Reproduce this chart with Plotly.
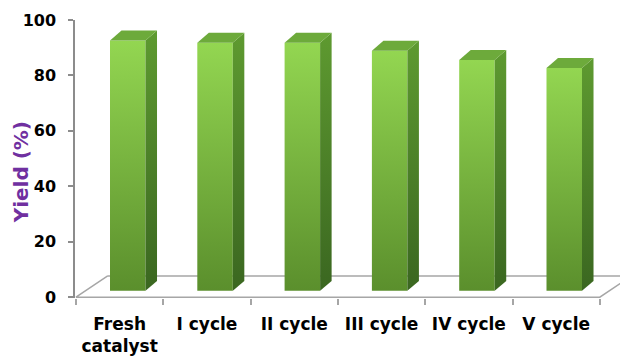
import plotly.graph_objects as go

# ---- data ----
categories = ["Fresh<br>catalyst", "I cycle", "II cycle", "III cycle", "IV cycle", "V cycle"]
yield_pct = [92.6, 91.8, 91.8, 88.9, 85.6, 82.7]
y_ticks = [0, 20, 40, 60, 80, 100]

# ---- 3D look parameters (data units) ----
floor_dx, floor_dy = 0.363, 7.68      # floor depth offset
bar_base = 2.3                         # bars sit set back on the floor
bar_shift = -0.1105                    # front-face left edge relative to category centre
bar_w = 0.4066
depth_dx, depth_dy = 0.132, 3.57       # bar depth offset

front_scale = [[0, "#5A8E2C"], [1, "#93D651"]]
side_scale = [[0, "#3A6620"], [1, "#5E9A30"]]
top_color = "#6DAA3B"
grey = "#A6A6A6"

fig = go.Figure()

# floor (front edge acts as the category axis line)
n = len(categories)
fig.add_trace(go.Scatter(
    x=[-0.5 + floor_dx, -0.5, n - 0.5, n - 0.5 + floor_dx, -0.5 + floor_dx],
    y=[floor_dy, 0, 0, floor_dy, floor_dy],
    mode="lines", line=dict(color=grey, width=1.5),
    hoverinfo="skip", showlegend=False,
))

for i, v in enumerate(yield_pct):
    x0 = i + bar_shift
    x1 = x0 + bar_w
    b = bar_base
    # front face
    fig.add_trace(go.Scatter(
        x=[x0, x1, x1, x0, x0], y=[b, b, v, v, b],
        mode="lines", fill="toself", line=dict(width=0),
        fillgradient=dict(type="vertical", colorscale=front_scale, start=b, stop=v),
        hoverinfo="skip", showlegend=False,
    ))
    # side face
    fig.add_trace(go.Scatter(
        x=[x1, x1 + depth_dx, x1 + depth_dx, x1, x1],
        y=[b, b + depth_dy, v + depth_dy, v, b],
        mode="lines", fill="toself", line=dict(width=0),
        fillgradient=dict(type="vertical", colorscale=side_scale, start=b, stop=v + depth_dy),
        hoverinfo="skip", showlegend=False,
    ))
    # top face
    fig.add_trace(go.Scatter(
        x=[x0, x1, x1 + depth_dx, x0 + depth_dx, x0],
        y=[v, v, v + depth_dy, v + depth_dy, v],
        mode="lines", fill="toself", line=dict(width=0),
        fillcolor=top_color,
        hoverinfo="skip", showlegend=False,
    ))

px_per_cat = 87.3
plot_w = 545
x_lo = -0.5 - 1 / px_per_cat
x_hi = x_lo + plot_w / px_per_cat

fig.update_layout(
    width=620, height=356,
    margin=dict(l=75, r=0, t=20, b=55),
    paper_bgcolor="white", plot_bgcolor="white",
    font=dict(family="DejaVu Sans", color="black"),
    xaxis=dict(
        range=[x_lo, x_hi], showgrid=False, zeroline=False, showline=False,
        tickmode="array", tickvals=list(range(n)), ticktext=categories,
        ticks="", tickfont=dict(size=17, weight="bold", color="black"),
        ticklabelstandoff=14,
        minor=dict(ticks="outside", tickmode="linear", tick0=-0.5, dtick=1,
                   ticklen=6, tickcolor=grey, tickwidth=1.5, showgrid=False),
    ),
    yaxis=dict(
        range=[-0.3, 100], showgrid=False, zeroline=False,
        showline=True, linecolor="#8C8C8C", linewidth=1.5,
        tickmode="array", tickvals=y_ticks,
        ticks="outside", ticklen=5, tickcolor="#8C8C8C", tickwidth=1.5,
        tickfont=dict(size=16, weight="bold", color="black"),
        ticklabelstandoff=9,
    ),
    annotations=[dict(
        text="Yield (%)", textangle=-90, showarrow=False,
        xref="paper", yref="paper",
        x=(21 - 75) / 545, y=(301 - 174) / 281,
        xanchor="center", yanchor="middle",
        font=dict(size=20, weight="bold", color="#7030A0", family="DejaVu Sans"),
    )],
)

fig.write_html("out.html")
